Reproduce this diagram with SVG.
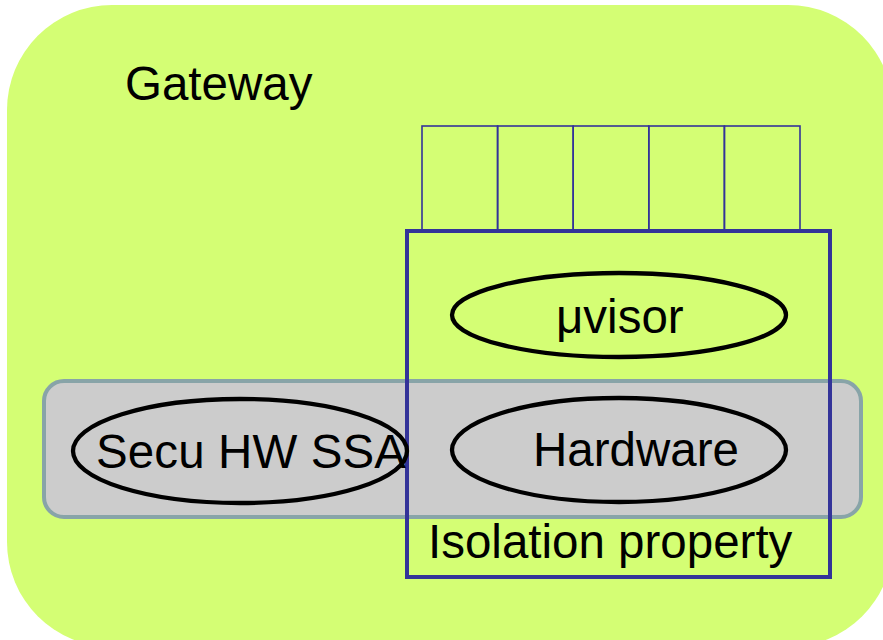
<svg xmlns="http://www.w3.org/2000/svg" width="883" height="640" viewBox="0 0 883 640">
<style>
text{font-family:"Liberation Sans",Arial,sans-serif;font-size:47.5px;fill:#000}
.cell{fill:none;stroke:#333399;stroke-width:1.6}
.ell{fill:none;stroke:#000;stroke-width:4.3}
</style>
<rect width="883" height="640" fill="#fff"/>
<g id="gateway">
<rect x="7" y="5" width="886" height="642" rx="105" ry="105" fill="#d4fe74"/>
<text x="125" y="100">Gateway</text>
</g>
<g id="slots">
<rect class="cell" x="422" y="126" width="75.6" height="104"/>
<rect class="cell" x="497.6" y="126" width="75.6" height="104"/>
<rect class="cell" x="573.2" y="126" width="75.6" height="104"/>
<rect class="cell" x="648.8" y="126" width="75.6" height="104"/>
<rect class="cell" x="724.4" y="126" width="75.6" height="104"/>
</g>
<g id="ssa-band">
<rect x="44" y="381" width="817" height="136" rx="20" ry="20" fill="#cccccc" stroke="#88a4a8" stroke-width="4"/>
</g>
<g id="isolation">
<rect x="407" y="231" width="423" height="346" fill="none" stroke="#333399" stroke-width="4"/>
<text x="428" y="558">Isolation property</text>
</g>
<g id="uvisor">
<ellipse class="ell" cx="619" cy="315" rx="167" ry="42"/>
<text x="556" y="333">μvisor</text>
</g>
<g id="hardware">
<ellipse class="ell" cx="619" cy="450" rx="167" ry="52"/>
<text x="533" y="466">Hardware</text>
</g>
<g id="secu">
<ellipse class="ell" cx="240" cy="451" rx="167" ry="52"/>
<text x="96" y="468" textLength="310">Secu HW SSA</text>
</g>
<g id="connectors"></g>
</svg>
